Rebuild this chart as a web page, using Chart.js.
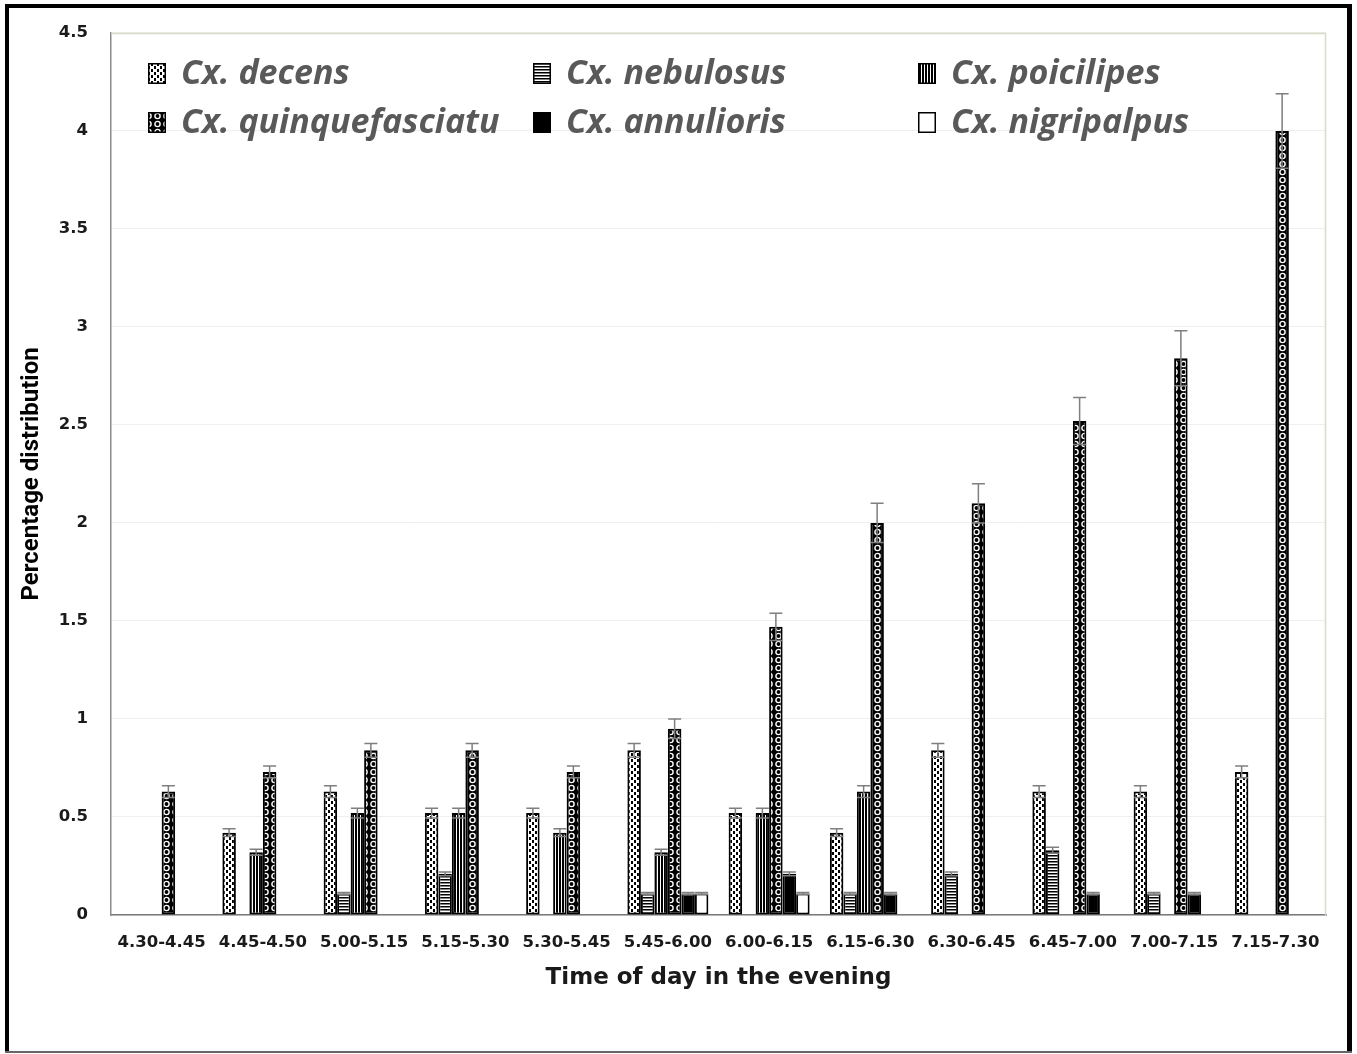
<!DOCTYPE html>
<html>
<head>
<meta charset="utf-8">
<title>Culex evening activity</title>
<script src="https://cdn.jsdelivr.net/npm/chart.js@4.4.1/dist/chart.umd.min.js"></script>
<style>
  html, body { margin: 0; padding: 0; background: #ffffff; }
  #wrap { width: 1357px; height: 1054px; position: relative; }
  canvas { display: block; }
</style>
</head>
<body>
<div id="wrap"><canvas id="chart" width="1357" height="1054"></canvas></div>
<script>
// Time slots (evening)
const timeSlots = ['4.30-4.45', '4.45-4.50', '5.00-5.15', '5.15-5.30', '5.30-5.45', '5.45-6.00',
                   '6.00-6.15', '6.15-6.30', '6.30-6.45', '6.45-7.00', '7.00-7.15', '7.15-7.30'];

// Species names as shown in the key
const speciesNames = ['Cx. decens', 'Cx. nebulosus', 'Cx. poicilipes',
                      'Cx. quinquefasciatu', 'Cx. annulioris', 'Cx. nigripalpus'];

// Percentage distribution per species
const decens        = [0, 0.42, 0.63, 0.52, 0.52, 0.84, 0.52, 0.42, 0.84, 0.63, 0.63, 0.73];
const nebulosus     = [0, 0, 0.11, 0.21, 0, 0.11, 0, 0.11, 0.21, 0.33, 0.11, 0];
const poicilipes    = [0, 0.32, 0.52, 0.52, 0.42, 0.32, 0.52, 0.63, 0, 0, 0, 0];
const quinquefasc   = [0.63, 0.73, 0.84, 0.84, 0.73, 0.95, 1.47, 2.0, 2.1, 2.52, 2.84, 4.0];
const annulioris    = [0, 0, 0, 0, 0, 0.11, 0.21, 0.11, 0, 0.11, 0.11, 0];
const nigripalpus   = [0, 0, 0, 0, 0, 0.11, 0.11, 0, 0, 0, 0, 0];

// Standard errors
const decensErr      = [0, 0.02, 0.03, 0.025, 0.025, 0.035, 0.025, 0.02, 0.035, 0.03, 0.03, 0.03];
const nebulosusErr   = [0, 0, 0.005, 0.01, 0, 0.005, 0, 0.005, 0.01, 0.015, 0.005, 0];
const poicilipesErr  = [0, 0.015, 0.025, 0.025, 0.02, 0.015, 0.025, 0.03, 0, 0, 0, 0];
const quinquefascErr = [0.03, 0.03, 0.035, 0.035, 0.03, 0.05, 0.07, 0.1, 0.1, 0.12, 0.14, 0.19];
const annuliorisErr  = [0, 0, 0, 0, 0, 0.005, 0.01, 0.005, 0, 0.005, 0.005, 0];
const nigripalpusErr = [0, 0, 0, 0, 0, 0.005, 0.005, 0, 0, 0, 0, 0];

// Y axis ticks
const yMin = 0, yMax = 4.5, yStep = 0.5;

// ---- monochrome fill patterns ----
function makeTile(w, h, paint) {
  const c = document.createElement('canvas');
  c.width = w; c.height = h;
  const g = c.getContext('2d');
  paint(g, w, h);
  return c;
}
const ctx0 = document.getElementById('chart').getContext('2d');

const dotTile = makeTile(6, 6, (g) => {            // white zig-zag blocks on black
  g.fillStyle = '#000'; g.fillRect(0, 0, 6, 6);
  g.fillStyle = '#fff';
  g.fillRect(0, 0, 4, 3); g.fillRect(3, 3, 4, 3); g.fillRect(0, 3, 1, 3);
});
const ringTile = makeTile(9, 8, (g) => {           // white rings on black
  g.fillStyle = '#000'; g.fillRect(0, 0, 9, 8);
  g.strokeStyle = '#fff'; g.lineWidth = 1.4;
  g.beginPath(); g.arc(4.5, 4, 2.6, 0, Math.PI * 2); g.stroke();
});
const hStripeTile = makeTile(4, 3, (g) => {        // horizontal stripes
  g.fillStyle = '#fff'; g.fillRect(0, 0, 4, 3);
  g.fillStyle = '#000'; g.fillRect(0, 0, 4, 1.5);
});
const vStripeTile = makeTile(3, 4, (g) => {        // vertical stripes
  g.fillStyle = '#000'; g.fillRect(0, 0, 3, 4);
  g.fillStyle = '#fff'; g.fillRect(0, 0, 1, 4);
});

const fills = [
  ctx0.createPattern(dotTile, 'repeat'),
  ctx0.createPattern(hStripeTile, 'repeat'),
  ctx0.createPattern(vStripeTile, 'repeat'),
  ctx0.createPattern(ringTile, 'repeat'),
  '#000000',
  '#ffffff'
];

const seriesValues = [decens, nebulosus, poicilipes, quinquefasc, annulioris, nigripalpus];
const seriesErrors = [decensErr, nebulosusErr, poicilipesErr, quinquefascErr, annuliorisErr, nigripalpusErr];

const datasets = seriesValues.map((vals, i) => ({
  label: speciesNames[i],
  data: vals,
  errors: seriesErrors[i],
  backgroundColor: fills[i],
  borderColor: '#000000',
  borderWidth: 2,
  borderSkipped: false,
  categoryPercentage: 0.8,
  barPercentage: 1.0
}));

// Outer frame and plot-area outline
const framePlugin = {
  id: 'frame',
  beforeDraw(chart) {
    const c = chart.ctx;
    c.save();
    c.fillStyle = '#ffffff';
    c.fillRect(0, 0, chart.width, chart.height);
    c.fillStyle = '#000000';
    c.fillRect(5, 4, 4, 1048);      // left
    c.fillRect(5, 4, 1347, 4);      // top
    c.fillRect(1347, 4, 5, 1048);   // right
    c.fillStyle = '#666666';
    c.fillRect(5, 1051, 1347, 2);   // bottom
    c.restore();
  },
  afterDraw(chart) {
    const a = chart.chartArea;
    const c = chart.ctx;
    c.save();
    c.strokeStyle = '#dcdac8';
    c.lineWidth = 1.5;
    c.beginPath();
    c.moveTo(a.left, a.top + 0.5);
    c.lineTo(a.right - 0.5, a.top + 0.5);
    c.lineTo(a.right - 0.5, a.bottom);
    c.stroke();
    c.restore();
  }
};

// Symmetric error whiskers in grey
const errorBarPlugin = {
  id: 'errorBars',
  afterDatasetsDraw(chart) {
    const c = chart.ctx;
    const y = chart.scales.y;
    c.save();
    c.strokeStyle = '#7f7f7f';
    c.lineWidth = 1.5;
    chart.data.datasets.forEach((ds, di) => {
      const meta = chart.getDatasetMeta(di);
      meta.data.forEach((bar, i) => {
        const v = ds.data[i];
        const e = ds.errors[i];
        if (!v || !e) return;
        const x = bar.x;
        const yTop = y.getPixelForValue(v + e);
        const yBot = y.getPixelForValue(v - e);
        const half = 6.5;
        c.beginPath();
        c.moveTo(x, yTop); c.lineTo(x, yBot);
        c.moveTo(x - half, yTop); c.lineTo(x + half, yTop);
        c.moveTo(x - half, yBot); c.lineTo(x + half, yBot);
        c.stroke();
      });
    });
    c.restore();
  }
};

// Key: three columns, two rows, inside the plot area
const keyPlugin = {
  id: 'speciesKey',
  afterDraw(chart) {
    const c = chart.ctx;
    const colX = [148, 533, 918];
    const rowY = [73, 122];
    c.save();
    c.font = 'italic 700 34px "Open Sans"';
    c.textBaseline = 'middle';
    c.textAlign = 'left';
    chart.data.datasets.forEach((ds, i) => {
      const x = colX[i % 3];
      const yc = rowY[Math.floor(i / 3)];
      c.fillStyle = ds.backgroundColor;
      c.fillRect(x, yc - 10, 18, 21);
      c.strokeStyle = '#000';
      c.lineWidth = 1.5;
      c.strokeRect(x + 0.75, yc - 9.25, 16.5, 19.5);
      c.fillStyle = '#595959';
      c.fillText(ds.label, x + 33, yc + 1);
    });
    c.restore();
  }
};

new Chart(document.getElementById('chart'), {
  type: 'bar',
  data: { labels: timeSlots, datasets },
  plugins: [framePlugin, errorBarPlugin, keyPlugin],
  options: {
    responsive: false,
    animation: false,
    devicePixelRatio: 1,
    layout: { padding: { top: 31, right: 31, left: 10, bottom: 10 } },
    plugins: {
      legend: { display: false },
      tooltip: { enabled: false }
    },
    scales: {
      x: {
        grid: { display: false, drawTicks: false },
        border: { display: true, color: '#7a7a7a', width: 1.5 },
        ticks: {
          color: '#1a1a1a',
          font: { family: '"DejaVu Sans"', weight: 'bold', size: 16.5 },
          padding: 18,
          maxRotation: 0,
          autoSkip: false
        },
        title: {
          display: true,
          text: 'Time of day in the evening',
          color: '#1a1a1a',
          font: { family: '"DejaVu Sans"', weight: 'bold', size: 23 },
          padding: { top: 0, bottom: 52 }
        },
        afterFit(scale) { scale.height = 129; }
      },
      y: {
        min: yMin,
        max: yMax,
        grid: { color: '#efefef', lineWidth: 1, drawTicks: false },
        border: { display: true, color: '#8a8a8a', width: 1.5 },
        ticks: {
          stepSize: yStep,
          color: '#1a1a1a',
          font: { family: '"DejaVu Sans"', weight: 'bold', size: 16.5 },
          padding: 23,
          callback: (value) => String(Math.round(value * 10) / 10)
        },
        title: {
          display: true,
          text: 'Percentage distribution',
          color: '#000000',
          font: { family: '"Liberation Sans Narrow", "Roboto"', weight: 'bold', size: 24 },
          padding: { top: 8, bottom: 0 }
        },
        afterFit(scale) { scale.width = 101; }
      }
    }
  }
});
</script>
</body>
</html>
